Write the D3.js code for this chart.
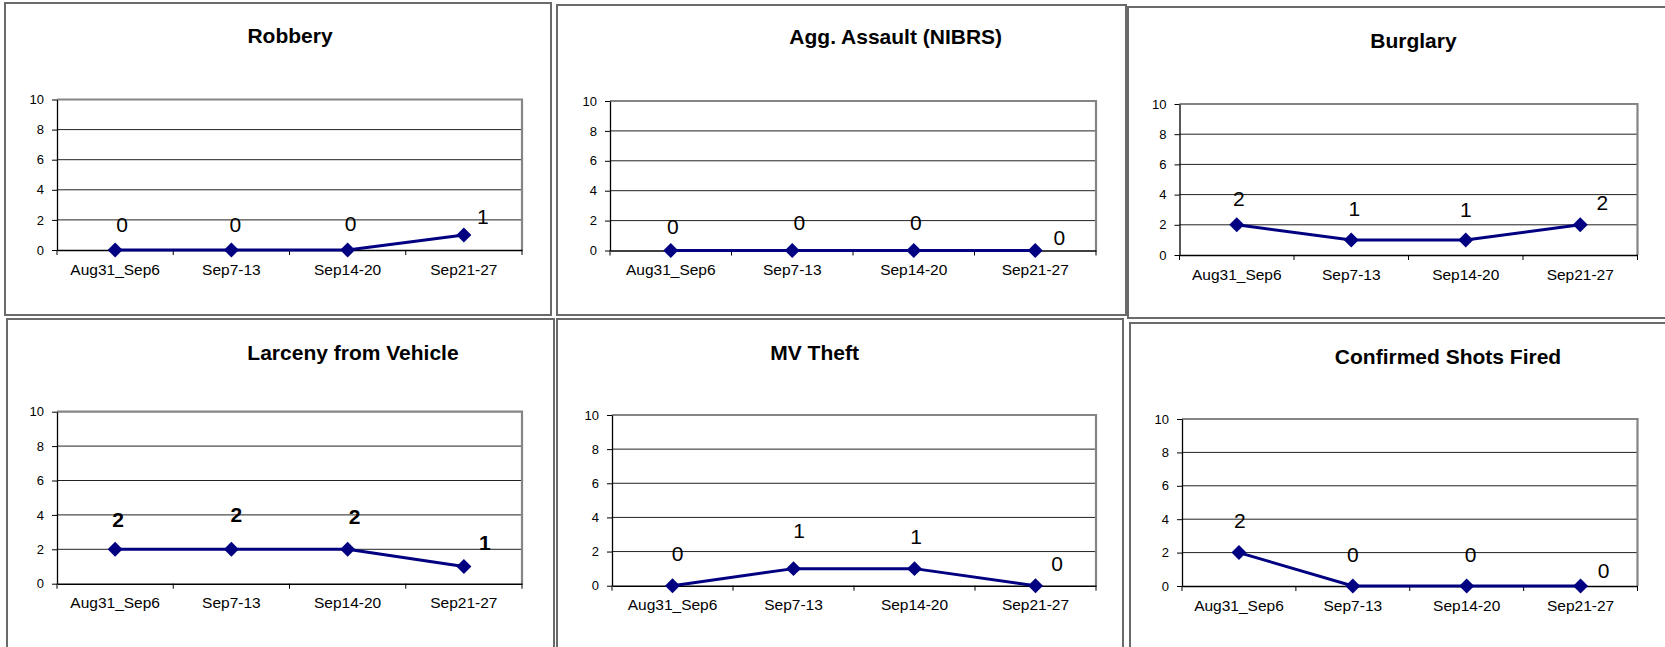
<!DOCTYPE html>
<html>
<head>
<meta charset="utf-8">
<script src="https://cdn.jsdelivr.net/npm/d3@7"></script>
<style>
    html, body { margin: 0; padding: 0; background: #fff; }
    svg { display: block; font-family: Arial, "Liberation Sans", sans-serif; }
</style>
</head>
<body>
<svg id="chart" width="1665" height="647"></svg>
<script>
"use strict";

var weeks = ["Aug31_Sep6", "Sep7-13", "Sep14-20", "Sep21-27"],
    yTicks = [0, 2, 4, 6, 8, 10],
    yMax = 10;

var titles = ["Robbery", "Agg. Assault (NIBRS)", "Burglary",
    "Larceny from Vehicle", "MV Theft", "Confirmed Shots Fired"];

var robbery = [0, 0, 0, 1],
    aggAssault = [0, 0, 0, 0],
    burglary = [2, 1, 1, 2],
    larcenyFromVehicle = [2, 2, 2, 1],
    mvTheft = [0, 1, 1, 0],
    shotsFired = [2, 0, 0, 0];

var series = [robbery, aggAssault, burglary, larcenyFromVehicle, mvTheft, shotsFired];

// frame box, plot box, title position and hand-placed label offsets for each panel
var panels = [
    { frame: [5, 3, 546, 312], plot: [57, 99.5, 465, 150.5], title: [290, 42.7],
        ldx: [7, 4, 3, 19], ldy: [-26, -26, -27, -19], bold: false },
    { frame: [557, 5, 569, 310], plot: [610, 101, 486, 149.5], title: [895.7, 44.3],
        ldx: [2, 7, 2, 24], ldy: [-24, -28, -28, -13], bold: false },
    { frame: [1128, 7, 600, 311], plot: [1179.5, 104, 458, 151], title: [1413.4, 47.7],
        ldx: [2, 3, 0, 22], ldy: [-26, -31, -30, -22], bold: false },
    { frame: [7, 319, 547, 400], plot: [57, 411.7, 465, 172], title: [353, 360],
        ldx: [3, 5, 7, 21], ldy: [-30, -35, -33, -24], bold: true },
    { frame: [557, 319, 566, 400], plot: [612, 415, 484, 170.7], title: [814.6, 360],
        ldx: [5, 5.5, 1.5, 21.5], ldy: [-32, -38, -32, -22], bold: false },
    { frame: [1130, 323, 600, 400], plot: [1182, 419, 455.5, 167], title: [1448, 364],
        ldx: [1, 0, 4, 23], ldy: [-32, -32, -32, -16], bold: false }
];

var NAVY = "#000080";

var svg = d3.select("#chart");

function drawPanel(p, i) {
    var values = series[i],
        px = p.plot[0], py = p.plot[1], pw = p.plot[2], ph = p.plot[3],
        g = svg.append("g").attr("class", "panel"),
        x = d3.scaleBand().domain(weeks).range([px, px + pw]),
        y = d3.scaleLinear().domain([0, yMax]).range([py + ph, py]),
        cx = function (d, j) { return x(weeks[j]) + x.bandwidth() / 2; },
        line;

    g.append("rect")
        .attr("x", p.frame[0]).attr("y", p.frame[1])
        .attr("width", p.frame[2]).attr("height", p.frame[3])
        .attr("fill", "none")
        .attr("stroke", "#6a6a6a")
        .attr("stroke-width", 2);

    g.append("text")
        .attr("x", p.title[0]).attr("y", p.title[1])
        .attr("text-anchor", "middle")
        .attr("font-size", 21)
        .attr("font-weight", "bold")
        .text(titles[i]);

    // gridlines
    g.selectAll("line.grid")
        .data(yTicks.filter(function (t) { return t > 0 && t < yMax; }))
        .enter().append("line")
        .attr("class", "grid")
        .attr("x1", px).attr("x2", px + pw)
        .attr("y1", function (d) { return y(d); })
        .attr("y2", function (d) { return y(d); })
        .attr("stroke", "#222")
        .attr("stroke-width", 1);

    // plot area border (top / right in grey)
    g.append("path")
        .attr("d", "M" + px + "," + y(yMax) + "H" + (px + pw) + "V" + y(0))
        .attr("fill", "none")
        .attr("stroke", "#858585")
        .attr("stroke-width", 2.2);

    var yAxis = g.append("g")
        .attr("transform", "translate(" + px + ",0)")
        .call(d3.axisLeft(y).tickValues(yTicks).tickSize(5).tickPadding(8).tickSizeOuter(0));
    yAxis.select(".domain").attr("stroke", "#000").attr("stroke-width", 1.3);
    yAxis.selectAll(".tick line").attr("stroke", "#000");
    yAxis.selectAll("text").attr("font-size", 13).attr("font-family", null).attr("fill", "#000");

    var xAxis = g.append("g")
        .attr("transform", "translate(0," + y(0) + ")")
        .call(d3.axisBottom(x).tickSize(0).tickPadding(13.7).tickSizeOuter(0));
    xAxis.select(".domain").attr("stroke", "#000").attr("stroke-width", 1.6);
    xAxis.selectAll("text").attr("font-size", 15.5).attr("font-family", null).attr("fill", "#000");

    // category boundary ticks
    xAxis.selectAll("line.bound")
        .data(weeks.map(function (w) { return x(w); }).concat([px + pw]))
        .enter().append("line")
        .attr("class", "bound")
        .attr("x1", function (d) { return d; })
        .attr("x2", function (d) { return d; })
        .attr("y1", 0).attr("y2", 5)
        .attr("stroke", "#000");

    line = d3.line()
        .x(cx)
        .y(function (d) { return y(d); });

    g.append("path")
        .datum(values)
        .attr("d", line)
        .attr("fill", "none")
        .attr("stroke", NAVY)
        .attr("stroke-width", 3);

    g.selectAll("path.marker")
        .data(values)
        .enter().append("path")
        .attr("class", "marker")
        .attr("d", d3.symbol(d3.symbolSquare, 112))
        .attr("transform", function (d, j) {
            return "translate(" + cx(d, j) + "," + y(d) + ") rotate(45)";
        })
        .attr("fill", NAVY);

    g.selectAll("text.value")
        .data(values)
        .enter().append("text")
        .attr("class", "value")
        .attr("x", function (d, j) { return cx(d, j) + p.ldx[j]; })
        .attr("y", function (d, j) { return y(d) + p.ldy[j]; })
        .attr("dy", "0.36em")
        .attr("text-anchor", "middle")
        .attr("font-size", 21)
        .attr("font-weight", p.bold ? "bold" : "normal")
        .text(function (d) { return d; });
}

panels.forEach(drawPanel);
</script>
</body>
</html>
